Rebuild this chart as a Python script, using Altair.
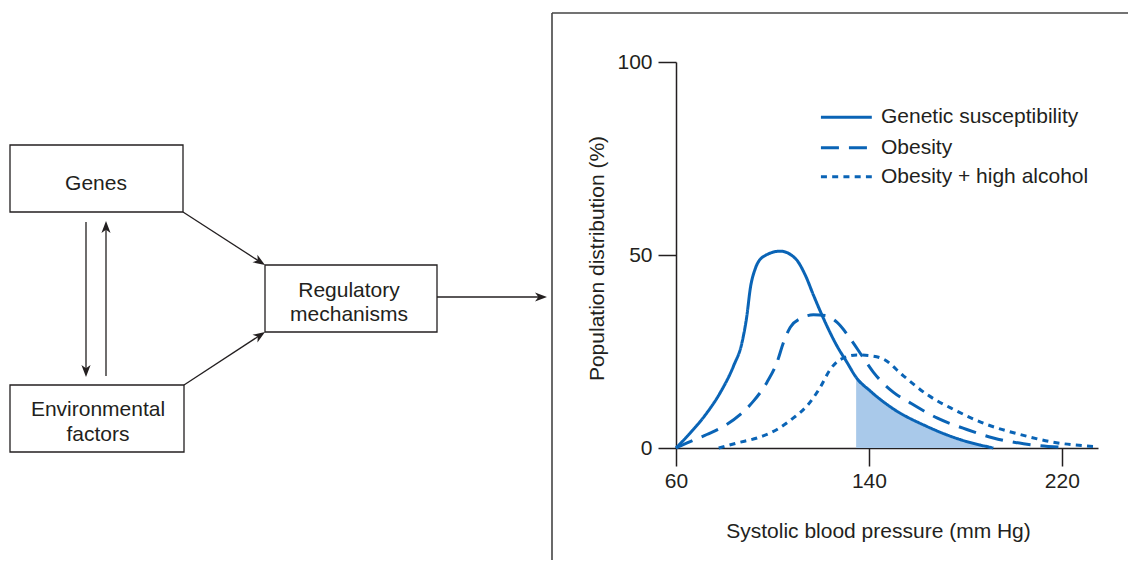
import math
import altair as alt
import pandas as pd

# ---------------- data ----------------
SERIES = ["Genetic susceptibility", "Obesity", "Obesity + high alcohol"]

genetic_x = [60, 65.9, 72.8, 78.4, 83.9, 87.4, 89.4, 90.8, 92.9, 96.3, 103.2, 109.5,
             113.6, 117.0, 121.2, 126.7, 130.9, 134.7, 140.5, 149.5, 164.0, 177.8, 191.6]
genetic_y = [0, 3.9, 9.1, 14.4, 21.3, 27.4, 34.3, 41.3, 46.5, 49.6, 51.0, 49.1,
             44.8, 39.6, 33.5, 26.5, 22.2, 18.3, 14.8, 10.4, 5.6, 2.2, 0]

obesity_x = [60, 64.6, 72.8, 79.7, 86.7, 92.2, 97.7, 101.9, 104.6, 107.4, 111.5, 117.0,
             121.9, 126.7, 132.3, 137.1, 141.9, 150.2, 157.1, 168.2, 180.6, 191.6, 204.1, 219.3]
obesity_y = [0, 1.3, 3.5, 5.6, 8.7, 12.2, 17.0, 22.2, 27.4, 31.3, 33.5, 34.5,
             34.3, 32.6, 28.3, 23.9, 19.6, 14.4, 11.7, 7.8, 4.8, 2.6, 1.1, 0.2]

alcohol_x = [77.7, 85.3, 93.6, 101.9, 108.7, 114.3, 119.8, 124.0, 128.1, 135.0, 140.5,
             146.1, 154.3, 164.0, 175.1, 188.9, 202.7, 216.5, 233.1]
alcohol_y = [0, 1.3, 2.6, 4.8, 7.8, 10.9, 15.7, 20.4, 22.9, 24.1, 23.9,
             23.0, 18.7, 13.9, 10.0, 6.1, 3.5, 1.5, 0.4]

SHADE_START = 134.7          # shaded tail of the genetic curve
X_TICKS = [60, 140, 220]
Y_TICKS = [0, 50, 100]
X_TITLE = "Systolic blood pressure (mm Hg)"
Y_TITLE = "Population distribution (%)"

# flow diagram text (one entry per line of text)
DIAGRAM_LINES = ["Genes", "Environmental", "factors", "Regulatory", "mechanisms"]

# ---------------- layout ----------------
# legend placement, in the plot's data units
LEGEND_LINE_X = (120.1, 141.2)
LEGEND_TEXT_X = 145.0
LEGEND_ROW_Y = [85.7, 77.8, 70.3]

# diagram placement, in page pixels
BOX_RECTS = [(10, 145, 183, 212), (10, 385, 184, 452), (265, 265, 437, 332)]
TEXT_POS = [(96, 189.5), (98, 415.5), (98, 440.5), (349, 296.5), (349, 321)]
ARROWS = [(86, 222, 86, 377), (106, 376, 106, 221), (183, 212, 265, 265),
          (184, 385, 265, 332), (437, 297, 547, 297)]
FRAME = [(552, 13, 552, 575), (552, 13, 1136, 13)]

FONT = "Liberation Sans"
FS = 21
INK = "#231f20"
BLUE = "#0a64b6"
FILL = "#a9c9ea"

PLOT_LEFT, PLOT_TOP, PLOT_W, PLOT_H = 676, 62, 422, 386
PAGE_W, PAGE_H = 1136, 575
SVG_W, SVG_H = 1120, 552

# ---------------- plot ----------------
genetic_df = pd.DataFrame({"x": genetic_x, "y": genetic_y, "series": SERIES[0]})
obesity_df = pd.DataFrame({"x": obesity_x, "y": obesity_y, "series": SERIES[1]})
alcohol_df = pd.DataFrame({"x": alcohol_x, "y": alcohol_y, "series": SERIES[2]})
lines_df = pd.concat([genetic_df, obesity_df, alcohol_df], ignore_index=True)

axis_common = dict(domainColor=INK, domainWidth=1.5, tickColor=INK, tickWidth=1.5,
                   tickSize=18, labelFont=FONT, labelFontSize=FS, labelColor=INK,
                   labelFlush=False, grid=False, titleFont=FONT, titleFontSize=FS,
                   titleFontWeight="normal", titleColor=INK)

x_scale = alt.Scale(domain=[60, 235], nice=False, zero=False)
y_scale = alt.Scale(domain=[0, 100], nice=False)
x_axis = alt.Axis(values=X_TICKS, title=X_TITLE, labelPadding=4,
                  titleX=202, titleY=83, titleAlign="center",
                  titleBaseline="middle", **axis_common)
y_axis = alt.Axis(values=Y_TICKS, title=Y_TITLE, labelPadding=6,
                  titleX=-79, titleY=196, titleAngle=270,
                  titleAlign="center", titleBaseline="middle", **axis_common)
dash_scale = alt.Scale(domain=SERIES, range=[[1, 0], [18, 10], [6, 5.25]])

x_enc = alt.X("x:Q", scale=x_scale, axis=x_axis)
y_enc = alt.Y("y:Q", scale=y_scale, axis=y_axis)

area = (alt.Chart(genetic_df)
        .transform_filter(alt.datum.x >= SHADE_START)
        .mark_area(color=FILL, opacity=1, interpolate="monotone")
        .encode(x=x_enc, y=y_enc))

lines = (alt.Chart(lines_df)
         .mark_line(color=BLUE, strokeWidth=3, interpolate="monotone")
         .encode(x=x_enc, y=y_enc,
                 strokeDash=alt.StrokeDash("series:N", scale=dash_scale, legend=None)))

legend_df = pd.DataFrame({"series": SERIES, "ly": LEGEND_ROW_Y,
                          "lx0": LEGEND_LINE_X[0], "lx1": LEGEND_LINE_X[1],
                          "tx": LEGEND_TEXT_X})

legend_lines = (alt.Chart(legend_df)
                .mark_rule(color=BLUE, strokeWidth=3)
                .encode(x=alt.X("lx0:Q", scale=x_scale, axis=x_axis), x2="lx1:Q",
                        y=alt.Y("ly:Q", scale=y_scale, axis=y_axis),
                        strokeDash=alt.StrokeDash("series:N", scale=dash_scale, legend=None)))

legend_text = (alt.Chart(legend_df)
               .mark_text(font=FONT, fontSize=FS, color=INK, align="left", baseline="middle")
               .encode(x=alt.X("tx:Q", scale=x_scale, axis=x_axis),
                       y=alt.Y("ly:Q", scale=y_scale, axis=y_axis),
                       text="series:N"))

plot = alt.layer(area, lines, legend_lines, legend_text)

# ---------------- diagram (pixel-identity scales) ----------------
dx = alt.Scale(domain=[0, PAGE_W], range=[-PLOT_LEFT, PAGE_W - PLOT_LEFT])
dy = alt.Scale(domain=[0, PAGE_H], range=[-PLOT_TOP, PAGE_H - PLOT_TOP])

boxes_df = pd.DataFrame(BOX_RECTS, columns=["x1", "y1", "x2", "y2"])
text_df = pd.DataFrame({"text": DIAGRAM_LINES,
                        "x": [p[0] for p in TEXT_POS], "y": [p[1] for p in TEXT_POS]})

HEAD = 12  # arrowhead length
rows, heads = [], []
for (x1, y1, x2, y2) in ARROWS:
    L = math.hypot(x2 - x1, y2 - y1)
    ux, uy = (x2 - x1) / L, (y2 - y1) / L
    rows.append({"x1": x1, "y1": y1, "x2": x2 - ux * 6, "y2": y2 - uy * 6})
    ang = math.degrees(math.atan2(y2 - y1, x2 - x1)) % 360
    heads.append({"x": x2, "y": y2, "angle": ang})
arrows_df = pd.DataFrame(rows)
heads_df = pd.DataFrame(heads)
frame_df = pd.DataFrame(FRAME, columns=["x1", "y1", "x2", "y2"])

boxes = alt.Chart(boxes_df).mark_rect(fill="white", stroke=INK, strokeWidth=1.3).encode(
    x=alt.X("x1:Q", scale=dx, axis=None), x2="x2:Q",
    y=alt.Y("y1:Q", scale=dy, axis=None), y2="y2:Q")

texts = alt.Chart(text_df).mark_text(font=FONT, fontSize=FS, color=INK, align="center",
                                     baseline="alphabetic").encode(
    x=alt.X("x:Q", scale=dx, axis=None), y=alt.Y("y:Q", scale=dy, axis=None), text="text:N")

shafts = alt.Chart(arrows_df).mark_rule(color=INK, strokeWidth=1.3).encode(
    x=alt.X("x1:Q", scale=dx, axis=None), x2="x2:Q",
    y=alt.Y("y1:Q", scale=dy, axis=None), y2="y2:Q")

ARROW_PATH = "M0,0L-1,-0.38L-0.72,0L-1,0.38Z"
arrowheads = alt.Chart(heads_df).mark_point(shape=ARROW_PATH, filled=True, opacity=1,
                                             color=INK, size=(2 * HEAD) ** 2,
                                             strokeWidth=0).encode(
    x=alt.X("x:Q", scale=dx, axis=None), y=alt.Y("y:Q", scale=dy, axis=None),
    angle=alt.Angle("angle:Q", scale=None))

frame = alt.Chart(frame_df).mark_rule(color="#444444", strokeWidth=1.6).encode(
    x=alt.X("x1:Q", scale=dx, axis=None), x2="x2:Q",
    y=alt.Y("y1:Q", scale=dy, axis=None), y2="y2:Q")

diagram = alt.layer(frame, shafts, arrowheads, boxes, texts)

chart = (alt.layer(plot, diagram)
         .resolve_scale(x="independent", y="independent")
         .properties(width=PLOT_W, height=PLOT_H, autosize="none",
                     padding={"left": PLOT_LEFT - 8, "top": PLOT_TOP - 8,
                              "right": SVG_W - (PLOT_LEFT - 8) - PLOT_W,
                              "bottom": SVG_H - (PLOT_TOP - 8) - PLOT_H})
         .configure(background="white", view=alt.ViewConfig(stroke="transparent")))

chart.save("out.html", embed_options={"renderer": "svg", "actions": False})
